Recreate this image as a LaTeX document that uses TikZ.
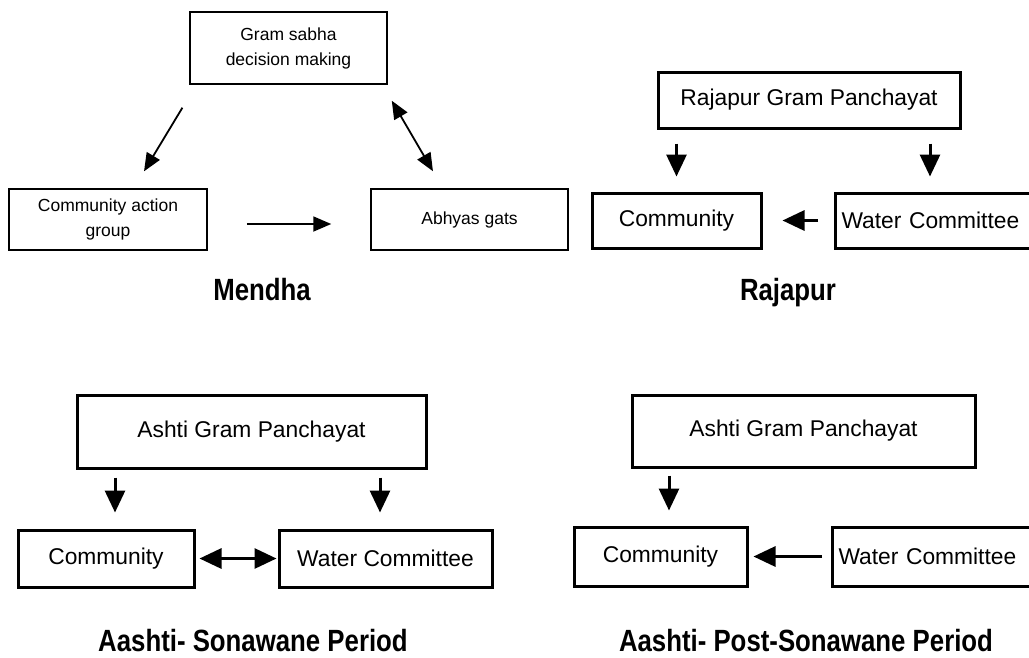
\documentclass[tikz,border=0pt]{standalone}
\usepackage{fontspec}
\setmainfont{Liberation Sans}
\newfontfamily\narrowfont{Liberation Sans}[FakeStretch=0.84]
\usepackage{tikz}
\usetikzlibrary{arrows.meta}
\tikzset{
	>={Triangle[length=18pt,width=15pt]},
	Big/.tip={Triangle[length=22pt,width=20pt]},
}
\tikzstyle{thinbox}=[draw,line width=1.5pt,align=center,font=\fontsize{17.5}{25}\selectfont]
\tikzstyle{thickbox}=[draw,line width=3pt,align=center,font=\fontsize{22.8}{27}\selectfont]
\tikzstyle{wcbox}=[thickbox,anchor=west,text width=200pt,align=left,inner xsep=6pt]
\tikzstyle{placename}=[anchor=base,inner sep=0pt,font=\narrowfont\bfseries\fontsize{30.7}{34}\selectfont]
\tikzstyle{thinarrow}=[->,line width=1.8pt]
\tikzstyle{thickarrow}=[-Big,line width=3pt]

\begin{document}
\begin{tikzpicture}[x=1pt,y=-1pt]
      \useasboundingbox (0,0) rectangle (1029,657);
      % Mendha
      \node[thinbox,minimum width=197pt,minimum height=72pt] (gram) at (288.5,48) {Gram sabha\\decision making};
      \node[thinbox,minimum width=198pt,minimum height=61pt] (cag) at (108,219.5) {Community action\\group};
      \node[thinbox,minimum width=197pt,minimum height=61pt] (abhyas) at (469.5,219.5) {Abhyas gats};
      \draw[thinarrow,shorten <=26.8pt,shorten >=19.8pt] ([xshift=7pt]gram.south west) -- ([xshift=25.8pt]cag.north);
      \draw[thinarrow,<->,shorten <=18.5pt,shorten >=19.7pt] ([xshift=-5.3pt]gram.south east) -- ([xshift=-26.6pt]abhyas.north);
      \draw[thinarrow,shorten <=39pt,shorten >=39pt] ([yshift=-4.5pt]cag.east) -- ([yshift=-4.5pt]abhyas.west);
      \node[placename] (mendha) at (262,300) {Mendha};
      % Rajapur
      \node[thickbox,minimum width=302pt,minimum height=56pt] (rgp) at (809,100) {Rajapur Gram Panchayat};
      \node[thickbox,minimum width=169pt,minimum height=55pt] (rcom) at (676.5,220.5) {Community};
      \node[wcbox,minimum height=55pt] (rwc) at (834,220.5) {Water Committee};
      \path ([xshift=96pt]rwc.north west) coordinate (rwin);
      \draw[thickarrow,shorten <=14pt,shorten >=15pt] (rgp.south -| rcom.north) -- (rcom.north);
      \draw[thickarrow,shorten <=14pt,shorten >=15pt] (rgp.south -| rwin) -- (rwin);
      \draw[thickarrow,shorten <=16pt,shorten >=20pt] (rwc.west) -- (rcom.east);
      \node[placename] (rajapur) at (788,300) {Rajapur};
      % Ashti, Sonawane period
      \node[thickbox,minimum width=349pt,minimum height=73pt] (agp) at (251.5,431.5) {Ashti Gram Panchayat};
      \node[thickbox,minimum width=176pt,minimum height=57pt] (acom) at (106,558.5) {Community};
      \node[thickbox,minimum width=213pt,minimum height=57pt] (awc) at (385.5,558.5) {Water Committee};
      \path ([xshift=9pt]acom.north) coordinate (acin) ([xshift=-5.5pt]awc.north) coordinate (awin);
      \draw[thickarrow,shorten <=8pt,shorten >=16pt] (agp.south -| acin) -- (acin);
      \draw[thickarrow,shorten <=8pt,shorten >=16pt] (agp.south -| awin) -- (awin);
      \draw[thickarrow,Big-Big,shorten <=4pt,shorten >=1pt] (acom.east) -- (awc.west);
      \node[placename] (sonawane) at (253,651) {Aashti- Sonawane Period};
      % Ashti, post-Sonawane period
      \node[thickbox,minimum width=343pt,minimum height=72pt] (bgp) at (803.5,431) {Ashti Gram Panchayat};
      \node[thickbox,minimum width=173pt,minimum height=59pt] (bcom) at (660.5,556.5) {Community};
      \node[wcbox,minimum height=59pt] (bwc) at (831,556.5) {Water Committee};
      \path ([xshift=8.5pt]bcom.north) coordinate (bcin);
      \draw[thickarrow,shorten <=7pt,shorten >=15pt] (bgp.south -| bcin) -- (bcin);
      \draw[thickarrow,shorten <=9pt,shorten >=5pt] (bwc.west) -- (bcom.east);
      \node[placename] (postsonawane) at (806,651) {Aashti- Post-Sonawane Period};
\end{tikzpicture}
\end{document}
